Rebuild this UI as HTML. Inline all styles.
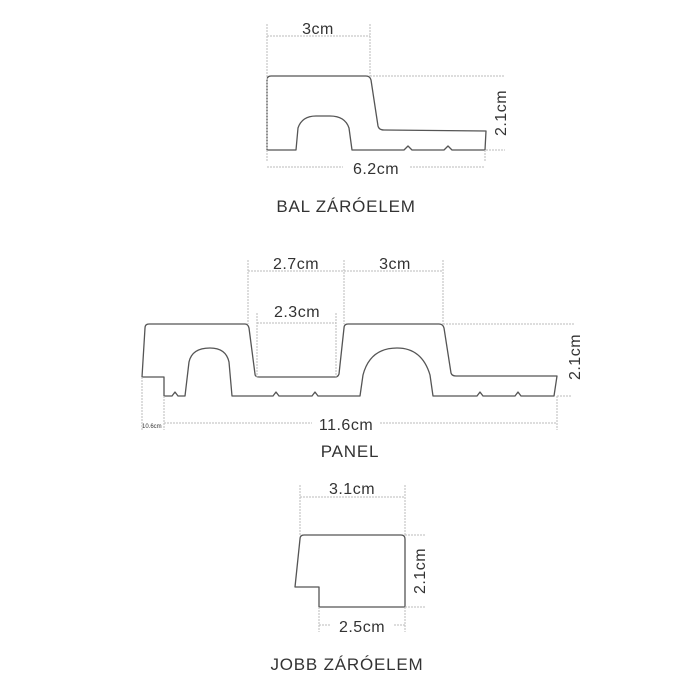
<!DOCTYPE html>
<html><head><style>
html,body{margin:0;padding:0;background:#fff;}
svg{display:block;}
text{font-family:"Liberation Sans",sans-serif;fill:#333;}
.o{fill:none;stroke:#555;stroke-width:1.3;stroke-linejoin:round;}
.d{stroke:#bbb;stroke-width:1;stroke-dasharray:2 1;fill:none;}
</style></head><body>
<svg width="700" height="700" viewBox="0 0 700 700">
<!-- TOP -->
<path class="o" d="M267,150 L267,80 Q267,76 271,76 L366,76 Q370,76 371,80 L378,126 Q379,130 384,130 L486,131 L485,150 L452,150 L448,146 L444,150 L412,150 L408,146 L404,150 L352,150 L349,128 Q345,116 330,116 L316,116 Q302,116 298,128 L296,150 Z"/>
<path class="d" d="M267,24 V162 M370,24 V76 M267,36 H370 M370,76 H505 M486,150 H505 M485,150 V162"/>
<path class="d" d="M267,167 H343 M410,167 H485"/>
<text x="318" y="34" font-size="16" text-anchor="middle" letter-spacing="0.5">3cm</text>
<text x="376" y="174" font-size="16" text-anchor="middle" letter-spacing="0.5">6.2cm</text>
<text transform="translate(506,113) rotate(-90)" font-size="16" text-anchor="middle" letter-spacing="0.5">2.1cm</text>
<text x="346" y="212" font-size="17" text-anchor="middle" letter-spacing="0.8">BAL ZÁRÓELEM</text>
<!-- PANEL -->
<path class="o" d="M142,377 L145,328 Q145,324 149,324 L245,324 Q248,324 249,328 L255,374 Q255,377 259,377 L335,377 Q338,377 339,374 L344,328 Q344,324 348,324 L439,324 Q443,324 444,328 L451,373 Q452,376 456,376 L557,376 L554,396 L521,396 L518,392 L515,396 L483,396 L480,392 L477,396 L433,396 L430,375 Q422,348 397,348 Q370,348 363,375 L360,396 L318,396 L315,392 L312,396 L279,396 L276,392 L273,396 L232,396 L229,362 Q226,348 210,348 Q192,348 189,362 L185,396 L178,396 L175,392 L172,396 L164,396 L164,377 Z"/>
<path class="d" d="M248,260 V324 M344,260 V324 M443,260 V324 M248,271 H443 M257,313 V377 M336,313 V377 M257,323 H336 M443,324 H575 M557,396 H572 M142,377 V430 M557,396 V430 M164,396 V430"/>
<path class="d" d="M164,423 H312 M380,423 H557"/>
<text x="296" y="269" font-size="16" text-anchor="middle" letter-spacing="0.5">2.7cm</text>
<text x="395" y="269" font-size="16" text-anchor="middle" letter-spacing="0.5">3cm</text>
<text x="297" y="317" font-size="16" text-anchor="middle" letter-spacing="0.5">2.3cm</text>
<text x="346" y="430" font-size="16" text-anchor="middle" letter-spacing="0.5">11.6cm</text>
<text x="142" y="428" font-size="6">10.6cm</text>
<text transform="translate(580,357) rotate(-90)" font-size="16" text-anchor="middle" letter-spacing="0.5">2.1cm</text>
<text x="350" y="457" font-size="17" text-anchor="middle" letter-spacing="0.8">PANEL</text>
<!-- JOBB -->
<path class="o" d="M300,539 Q300,535 304,535 L401,535 Q405,535 405,539 L405,607 L319,607 L319,587 L295,587 Z"/>
<path class="d" d="M300,485 V535 M405,485 V535 M300,497 H405 M405,535 H425 M405,607 H425 M319,607 V632 M405,607 V632 M319,625 H331 M394,625 H405"/>
<text x="352" y="494" font-size="16" text-anchor="middle" letter-spacing="0.5">3.1cm</text>
<text x="362" y="632" font-size="16" text-anchor="middle" letter-spacing="0.5">2.5cm</text>
<text transform="translate(425,571) rotate(-90)" font-size="16" text-anchor="middle" letter-spacing="0.5">2.1cm</text>
<text x="347" y="670" font-size="17" text-anchor="middle" letter-spacing="0.8">JOBB ZÁRÓELEM</text>
</svg>
</body></html>
